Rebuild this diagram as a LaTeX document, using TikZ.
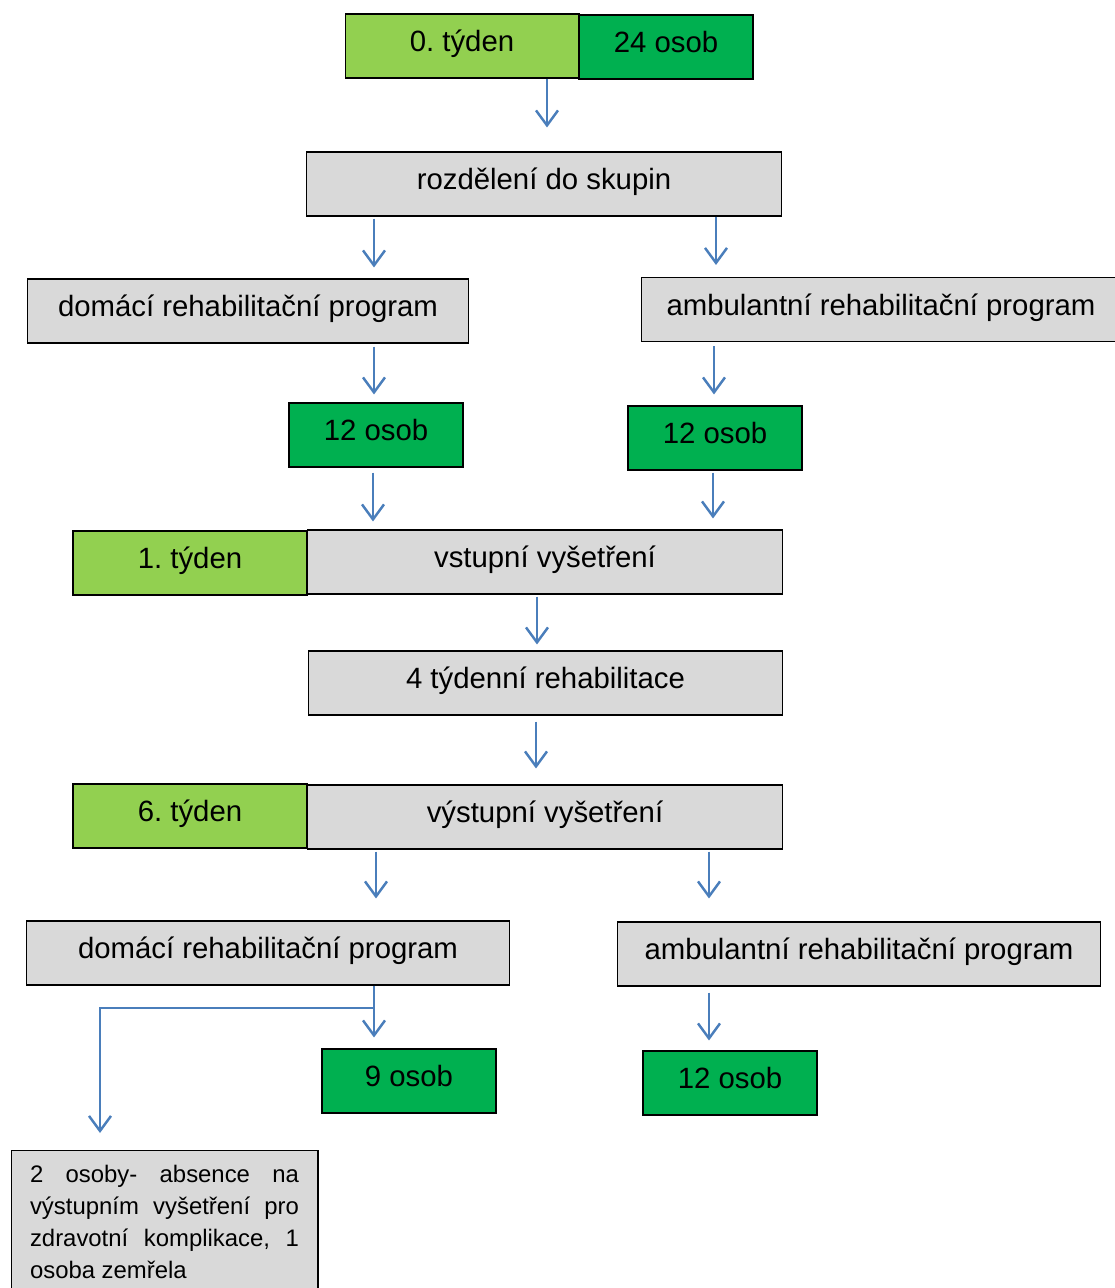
\documentclass[tikz,border=0pt]{standalone}
\usepackage{fontspec}
\setmainfont{Liberation Sans}
\usetikzlibrary{arrows.meta}

\definecolor{sedaKrok}{HTML}{D9D9D9}
\definecolor{svetleZelena}{HTML}{92D050}
\definecolor{tmaveZelena}{HTML}{00B050}
\definecolor{modraSipka}{HTML}{4A7EBB}

\tikzset{
    krok/.style={draw=black, line width=0.6pt, fill=sedaKrok, minimum height=1.28cm,
        inner sep=0pt, text height=12pt, text depth=5.7pt, font=\fontsize{16.7}{20}\selectfont},
    tyden/.style={krok, fill=svetleZelena, minimum width=4.68cm},
    pocet/.style={krok, fill=tmaveZelena, minimum width=3.48cm},
    sipka/.style={draw=modraSipka, line width=1.4pt,
        -{Straight Barb[length=3mm,width=4.4mm,line width=1.4pt]}},
}

\begin{document}
\frenchspacing
\begin{tikzpicture}[x=0.02cm, y=-0.02cm]

    \useasboundingbox (0,0) rectangle (1115,1288);

    \node[tyden] (t0) at (462,46) {0. týden};
    \node[pocet] (n24) at (666,47) {24 osob};
    \node[krok, minimum width=9.52cm] (rozdeleni) at (544,184) {rozdělení do skupin};

    \node[krok, minimum width=8.84cm] (domaci1) at (248,311) {domácí rehabilitační program};
    \node[krok, minimum width=9.6cm] (ambul1) at (881,309.5) {ambulantní rehabilitační program};
    \node[pocet] (n12a) at (376,435) {12 osob};
    \node[pocet] (n12b) at (715,438) {12 osob};

    \node[tyden] (t1) at (190,563) {1. týden};
    \node[krok, minimum width=9.52cm] (vstupni) at (545,562) {vstupní vyšetření};
    \node[krok, minimum width=9.5cm] (rehab4) at (545.5,683) {4 týdenní rehabilitace};
    \node[tyden] (t6) at (190,816) {6. týden};
    \node[krok, minimum width=9.52cm] (vystupni) at (545,817) {výstupní vyšetření};

    \node[krok, minimum width=9.68cm] (domaci2) at (268,953) {domácí rehabilitační program};
    \node[krok, minimum width=9.68cm] (ambul2) at (859,954) {ambulantní rehabilitační program};
    \node[pocet] (n9) at (409,1081) {9 osob};
    \node[pocet] (n12c) at (730,1083) {12 osob};

    \node[krok, anchor=north, minimum height=0pt, text height=, text depth=, text width=5.38cm,
        inner xsep=0.38cm, inner ysep=0.3cm, align=justify, font=\fontsize{13.6}{18.2}\selectfont]
        (pozn) at (164.5,1150)
        {2 osoby- absence na\linebreak výstupním vyšetření pro\linebreak zdravotní komplikace, 1\linebreak osoba zemřela};

    \coordinate (odbocka) at (100,1008);

    \draw[sipka, shorten >=0.48cm] (t0.south -| 547,0) -- (rozdeleni.north -| 547,0);
    \draw[sipka, shorten <=0.04cm, shorten >=0.22cm] (rozdeleni.south -| 374,0) -- (domaci1.north -| 374,0);
    \draw[sipka, shorten >=0.24cm] (rozdeleni.south -| 716,0) -- (ambul1.north -| 716,0);
    \draw[sipka, shorten <=0.06cm, shorten >=0.16cm] (domaci1.south -| 374,0) -- (n12a.north -| 374,0);
    \draw[sipka, shorten <=0.08cm, shorten >=0.22cm] (ambul1.south -| 714,0) -- (n12b.north -| 714,0);
    \draw[sipka, shorten <=0.1cm, shorten >=0.16cm] (n12a.south -| 373,0) -- (vstupni.north -| 373,0);
    \draw[sipka, shorten <=0.04cm, shorten >=0.22cm] (n12b.south -| 713,0) -- (vstupni.north -| 713,0);
    \draw[sipka, shorten <=0.04cm, shorten >=0.12cm] (vstupni.south -| 537,0) -- (rehab4.north -| 537,0);
    \draw[sipka, shorten <=0.12cm, shorten >=0.32cm] (rehab4.south -| 536,0) -- (vystupni.north -| 536,0);
    \draw[sipka, shorten <=0.04cm, shorten >=0.44cm] (vystupni.south -| 376,0) -- (domaci2.north -| 376,0);
    \draw[sipka, shorten <=0.04cm, shorten >=0.46cm] (vystupni.south -| 709,0) -- (ambul2.north -| 709,0);
    \draw[sipka, shorten <=0.06cm, shorten >=0.22cm] (domaci2.south -| 374,0) -- (n9.north -| 374,0);
    \draw[sipka, shorten <=0.12cm, shorten >=0.2cm] (ambul2.south -| 709,0) -- (n12c.north -| 709,0);
    \draw[sipka, shorten >=0.34cm] (domaci2.south -| 374,0) |- (odbocka) -- (pozn.north -| odbocka);

\end{tikzpicture}
\end{document}
